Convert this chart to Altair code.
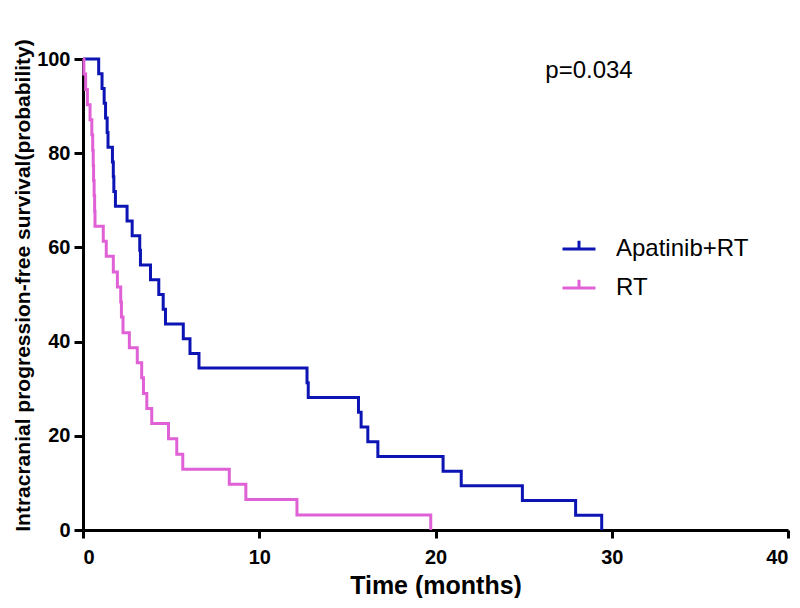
import altair as alt
import pandas as pd

# Apatinib+RT arm: event times (months) and survival (%) after each step
apa_time = [0, 0.89, 1.08, 1.20, 1.28, 1.37, 1.42, 1.67, 1.72, 1.75, 1.84, 2.50, 2.79,
            3.22, 3.26, 3.83, 4.30, 4.55, 4.68, 5.69, 6.07, 6.58, 12.71, 12.78, 15.63,
            15.78, 16.16, 16.73, 20.43, 21.46, 24.93, 27.95, 29.43]
apa_surv = [100, 96.875, 93.75, 90.625, 87.5, 84.375, 81.25, 78.125, 75.0, 71.875, 68.75,
            65.625, 62.5, 59.375, 56.25, 53.125, 50.0, 46.875, 43.75, 40.625, 37.5, 34.375,
            31.25, 28.125, 25.0, 21.875, 18.75, 15.625, 12.5, 9.375, 6.25, 3.125, 0]

# RT arm
rt_time = [0, 0.05, 0.15, 0.25, 0.40, 0.50, 0.55, 0.58, 0.60, 0.63, 0.66, 0.68, 1.15, 1.32,
           1.72, 1.95, 2.14, 2.18, 2.27, 2.63, 3.08, 3.33, 3.43, 3.62, 3.90, 4.85, 5.32,
           5.66, 8.30, 9.24, 12.14, 19.73]
rt_surv = [100, 96.8, 93.5, 90.3, 87.1, 83.9, 80.6, 77.4, 74.2, 71.0, 67.7, 64.5, 61.3, 58.1,
           54.8, 51.6, 48.4, 45.2, 41.9, 38.7, 35.5, 32.3, 29.0, 25.8, 22.6, 19.4, 16.1,
           12.9, 9.7, 6.5, 3.2, 0]

groups = ["Apatinib+RT", "RT"]
colors = ["#0c14b4", "#e060d6"]
x_ticks = [0, 10, 20, 30, 40]
y_ticks = [0, 20, 40, 60, 80, 100]
p_text = "p=0.034"

df = pd.concat([
    pd.DataFrame({"time": apa_time, "surv": apa_surv, "group": groups[0]}),
    pd.DataFrame({"time": rt_time, "surv": rt_surv, "group": groups[1]}),
], ignore_index=True)

FONT = "Liberation Sans"

lines = alt.Chart(df).mark_line(interpolate="step-after", strokeWidth=3).encode(
    x=alt.X("time:Q", scale=alt.Scale(domain=[0, 40], nice=False),
            axis=alt.Axis(values=x_ticks, title="Time (months)", grid=False,
                          tickSize=8, labelPadding=9, titlePadding=6)),
    y=alt.Y("surv:Q", scale=alt.Scale(domain=[0, 100], nice=False),
            axis=alt.Axis(values=y_ticks, title="Intracranial progression-free survival(probability)",
                          grid=False, tickSize=9, labelPadding=4, titlePadding=3, titleY=226)),
    color=alt.Color("group:N", scale=alt.Scale(domain=groups, range=colors),
                    legend=alt.Legend(title=None, orient="none", legendX=478, legendY=172,
                                      symbolType="M-1,0H1M0,0V-0.5", symbolSize=1089,
                                      symbolStrokeWidth=3, labelFontSize=24, labelFont=FONT,
                                      labelColor="black",
                                      rowPadding=9, labelOffset=19, symbolOffset=0)),
    order="time:Q",
)

ptext = alt.Chart(pd.DataFrame({"t": [p_text]})).mark_text(
    font=FONT, fontSize=24, align="center", baseline="middle", color="black"
).encode(text="t:N", x=alt.value(506), y=alt.value(12))

chart = alt.layer(lines, ptext).properties(
    width=705, height=471,
    autosize=alt.AutoSizeParams(type="none"),
    padding={"left": 75, "top": 51, "right": 2, "bottom": 68},
).configure_view(stroke=None).configure_axis(
    domainColor="black", domainWidth=3, tickColor="black", tickWidth=3,
    labelFont=FONT, labelFontSize=20, labelFontWeight="bold", labelColor="black",
    titleFont=FONT, titleFontSize=25, titleFontWeight="bold", titleColor="black",
).configure_axisY(titleFontSize=21)

chart.save("out.html", embed_options={"renderer": "svg", "actions": False})
